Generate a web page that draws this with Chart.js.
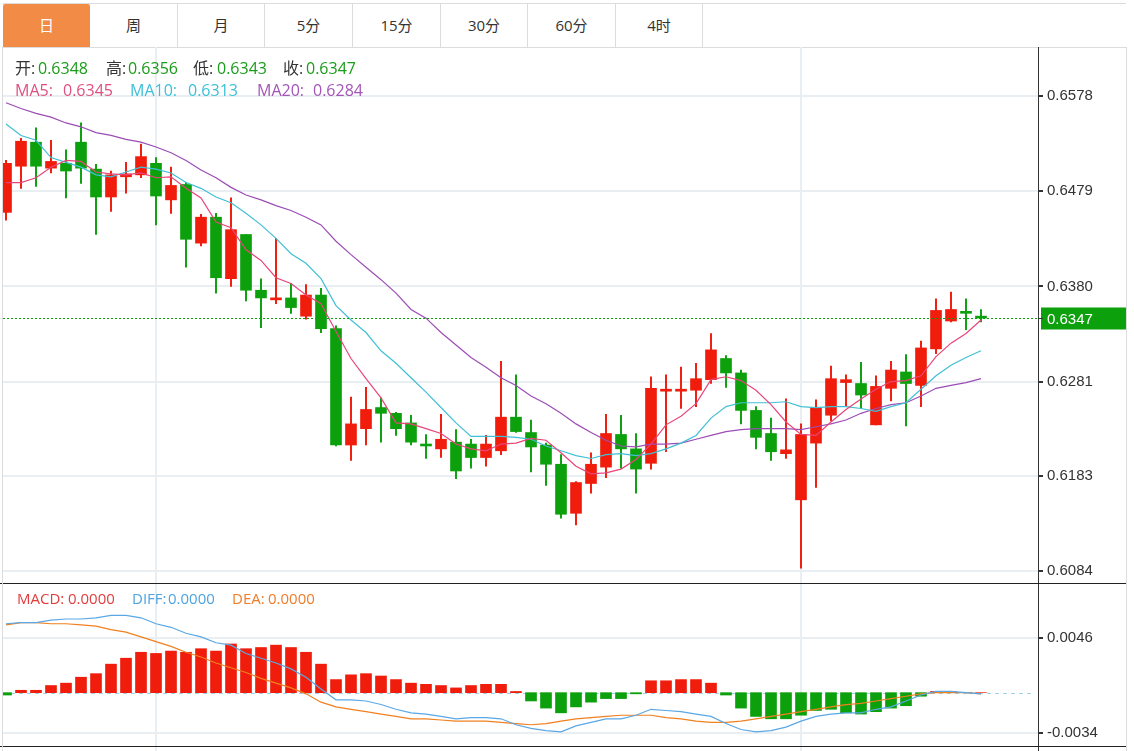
<!DOCTYPE html>
<html>
<head>
<meta charset="utf-8">
<script src="https://cdn.jsdelivr.net/npm/chart.js@4.4.0/dist/chart.umd.min.js"></script>
<style>
  body { margin: 0; width: 1134px; height: 751px; background: #fff; overflow: hidden; position: relative;
         font-family: "Open Sans", "Noto Sans CJK SC", sans-serif; }
  .tabs { position: absolute; left: 3px; top: 3px; width: 1123px; height: 43px;
          border-top: 1px solid #dcdcdc; border-bottom: 1px solid #dcdcdc; }
  .tab { position: absolute; top: 0; height: 43px; line-height: 43px; text-align: center; font-size: 15px;
         color: #333; border-right: 1px solid #dcdcdc; box-sizing: border-box; }
  .tab.on { background: #f28b45; color: #fff; border-right: none; border-radius: 2px 2px 0 0; }
  canvas { position: absolute; left: 0; }
  .txt { position: absolute; white-space: nowrap; line-height: 20px; z-index: 2; }
  .l1 { font-size: 16px; top: 58px; }
  .l2 { font-size: 16px; top: 80px; }
  .l3 { font-size: 15px; top: 588px; }
  .line { position: absolute; z-index: 3; }
</style>
</head>
<body>
<div class="tabs" id="tabs"></div>

<canvas id="main" width="1126" height="536" style="top:47px"></canvas>
<canvas id="macd" width="1126" height="163" style="top:583px"></canvas>

<div class="line" style="left:0;top:583px;width:1126px;height:1px;background:#222"></div>
<div class="line" style="left:0;top:746px;width:1126px;height:1px;background:#222"></div>
<div class="line" style="left:2px;top:47px;width:1px;height:704px;background:#dcdcdc"></div>
<div class="line" style="left:1126px;top:47px;width:1px;height:704px;background:#dcdcdc"></div>
<div class="line" style="left:1038px;top:747px;width:1px;height:4px;background:#333"></div>
<div class="line" style="left:155px;top:747px;width:2px;height:4px;background:#e9eef2"></div>
<div class="line" style="left:800px;top:747px;width:2px;height:4px;background:#e9eef2"></div>

<span class="txt l1" style="left:15px;color:#333">开:</span>
<span class="txt l1" style="left:38px;color:#1a9c1a">0.6348</span>
<span class="txt l1" style="left:106px;color:#333">高:</span>
<span class="txt l1" style="left:128px;color:#1a9c1a">0.6356</span>
<span class="txt l1" style="left:193px;color:#333">低:</span>
<span class="txt l1" style="left:217px;color:#1a9c1a">0.6343</span>
<span class="txt l1" style="left:283px;color:#333">收:</span>
<span class="txt l1" style="left:306px;color:#1a9c1a">0.6347</span>

<span class="txt l2" style="left:15px;color:#e0507e">MA5:</span>
<span class="txt l2" style="left:63px;color:#e0507e">0.6345</span>
<span class="txt l2" style="left:130px;color:#3ec0d8">MA10:</span>
<span class="txt l2" style="left:188px;color:#3ec0d8">0.6313</span>
<span class="txt l2" style="left:257px;color:#a356b8">MA20:</span>
<span class="txt l2" style="left:313px;color:#a356b8">0.6284</span>

<span class="txt l3" style="left:17px;color:#e23c3c">MACD:</span>
<span class="txt l3" style="left:68px;color:#e23c3c">0.0000</span>
<span class="txt l3" style="left:132px;color:#4ea3e0">DIFF:</span>
<span class="txt l3" style="left:168px;color:#4ea3e0">0.0000</span>
<span class="txt l3" style="left:232px;color:#f07c28">DEA:</span>
<span class="txt l3" style="left:268px;color:#f07c28">0.0000</span>

<script>
// tabs
const tabNames = ["日", "周", "月", "5分", "15分", "30分", "60分", "4时"];
const tabEdges = [0, 87, 175, 262, 350, 438, 525, 613, 700];

// daily candles, oldest first
const opens = [0.6457,0.6505,0.6530,0.6503,0.6508,0.6530,0.6502,0.6473,0.6494,0.6496,
  0.6508,0.6470,0.6486,0.6425,0.6452,0.6388,0.6434,0.6376,0.6366,0.6368,
  0.6349,0.6371,0.6336,0.6215,0.6232,0.6254,0.6248,0.6238,0.6216,0.6211,
  0.6218,0.6216,0.6202,0.6209,0.6244,0.6228,0.6215,0.6195,0.6144,0.6175,
  0.6192,0.6226,0.6211,0.6196,0.6271,0.6271,0.6272,0.6283,0.6305,0.6290,
  0.6251,0.6227,0.6206,0.6158,0.6217,0.6246,0.6280,0.6279,0.6236,0.6274,
  0.6291,0.6277,0.6315,0.6344,0.6354,0.6348];
const highs = [0.6511,0.6534,0.6545,0.6532,0.6522,0.6550,0.6507,0.6500,0.6509,0.6528,
  0.6514,0.6504,0.6488,0.6455,0.6456,0.6472,0.6434,0.6388,0.6430,0.6383,
  0.6382,0.6378,0.6339,0.6265,0.6275,0.6264,0.6249,0.6246,0.6226,0.6247,
  0.6231,0.6221,0.6225,0.6302,0.6288,0.6241,0.6217,0.6205,0.6177,0.6207,
  0.6247,0.6246,0.6227,0.6286,0.6288,0.6296,0.6300,0.6331,0.6308,0.6293,
  0.6255,0.6243,0.6263,0.6237,0.6262,0.6297,0.6288,0.6301,0.6287,0.6302,
  0.6309,0.6323,0.6367,0.6374,0.6367,0.6356];
const lows = [0.6449,0.6482,0.6484,0.6498,0.6472,0.6487,0.6434,0.6458,0.6477,0.6493,
  0.6444,0.6456,0.6400,0.6422,0.6373,0.6380,0.6365,0.6337,0.6362,0.6352,
  0.6346,0.6332,0.6214,0.6199,0.6215,0.6218,0.6225,0.6215,0.6201,0.6202,
  0.6180,0.6191,0.6193,0.6205,0.6228,0.6187,0.6173,0.6139,0.6132,0.6165,
  0.6181,0.6191,0.6165,0.6190,0.6208,0.6253,0.6255,0.6279,0.6275,0.6237,
  0.6211,0.6199,0.6201,0.6087,0.6171,0.6240,0.6255,0.6253,0.6236,0.6261,
  0.6235,0.6255,0.6310,0.6343,0.6335,0.6343];
const closes = [0.6508,0.6531,0.6505,0.6510,0.6500,0.6503,0.6473,0.6496,0.6497,0.6515,
  0.6474,0.6485,0.6429,0.6452,0.6389,0.6439,0.6376,0.6368,0.6368,0.6358,
  0.6371,0.6336,0.6215,0.6237,0.6252,0.6248,0.6232,0.6218,0.6214,0.6221,
  0.6188,0.6202,0.6216,0.6244,0.6229,0.6213,0.6195,0.6143,0.6176,0.6195,
  0.6227,0.6211,0.6190,0.6274,0.6273,0.6273,0.6284,0.6314,0.6290,0.6251,
  0.6223,0.6208,0.6210,0.6226,0.6254,0.6284,0.6283,0.6267,0.6276,0.6293,
  0.6279,0.6316,0.6355,0.6356,0.6352,0.6347];

const ma5 = [0.6488,0.6488,0.6493,0.6504,0.6511,0.6510,0.6499,0.6497,0.6496,0.6498,
  0.6493,0.6494,0.6482,0.6472,0.6447,0.6441,0.6418,0.6407,0.6389,0.6383,
  0.6371,0.6362,0.6333,0.6305,0.6284,0.6264,0.6238,0.6237,0.6232,0.6227,
  0.6216,0.6211,0.6209,0.6216,0.6217,0.6222,0.6220,0.6207,0.6193,0.6185,
  0.6186,0.6190,0.6200,0.6216,0.6236,0.6245,0.6258,0.6283,0.6286,0.6282,
  0.6272,0.6257,0.6239,0.6226,0.6225,0.6239,0.6252,0.6263,0.6273,0.6281,
  0.6282,0.6287,0.6307,0.6321,0.6331,0.6345];
const ma10 = [0.6549,0.6537,0.6532,0.6514,0.6509,0.6504,0.6496,0.6494,0.6499,0.6504,
  0.6502,0.6498,0.6488,0.6482,0.6473,0.6467,0.6456,0.6444,0.6430,0.6414,
  0.6404,0.6388,0.6360,0.6345,0.6332,0.6313,0.6300,0.6285,0.6270,0.6254,
  0.6238,0.6224,0.6224,0.6224,0.6223,0.6221,0.6214,0.6209,0.6204,0.6201,
  0.6205,0.6206,0.6204,0.6206,0.6211,0.6217,0.6225,0.6243,0.6255,0.6259,
  0.6259,0.6259,0.6260,0.6255,0.6254,0.6255,0.6255,0.6253,0.6250,0.6255,
  0.6259,0.6273,0.6287,0.6298,0.6306,0.6313];
const ma20 = [0.6571,0.6565,0.6560,0.6556,0.6550,0.6546,0.6540,0.6537,0.6533,0.6530,
  0.6525,0.6519,0.6511,0.6501,0.6493,0.6483,0.6475,0.6470,0.6464,0.6459,
  0.6452,0.6444,0.6427,0.6413,0.6400,0.6387,0.6373,0.6356,0.6347,0.6332,
  0.6319,0.6306,0.6296,0.6285,0.6277,0.6266,0.6258,0.6248,0.6237,0.6228,
  0.6220,0.6214,0.6213,0.6216,0.6216,0.6217,0.6221,0.6225,0.6229,0.6231,
  0.6232,0.6232,0.6232,0.6231,0.6234,0.6237,0.6241,0.6248,0.6253,0.6257,
  0.6259,0.6266,0.6274,0.6277,0.6280,0.6284];

const macdBars = [-0.0002,0.0002,0.0002,0.0006,0.0008,0.0013,0.0016,0.0024,0.0029,0.0034,
  0.0033,0.0035,0.0034,0.0037,0.0035,0.0041,0.0037,0.0038,0.0040,0.0038,
  0.0034,0.0024,0.0011,0.0015,0.0016,0.0014,0.0011,0.0008,0.0007,0.0006,
  0.0004,0.0006,0.0007,0.0007,0.0001,-0.0007,-0.0013,-0.0017,-0.0012,-0.0008,
  -0.0005,-0.0005,-0.0001,0.0010,0.0010,0.0011,0.0011,0.0008,-0.0002,-0.0013,
  -0.0020,-0.0022,-0.0022,-0.0019,-0.0015,-0.0014,-0.0017,-0.0018,-0.0016,-0.0013,
  -0.0011,-0.0003,0.0001,0.0001,0.0000,0.0000];
const diff = [0.0058,0.0059,0.0059,0.0061,0.0062,0.0062,0.0063,0.0065,0.0065,0.0063,
  0.0058,0.0055,0.0050,0.0047,0.0042,0.0040,0.0033,0.0029,0.0025,0.0020,
  0.0013,0.0003,-0.0006,-0.0006,-0.0007,-0.0010,-0.0014,-0.0017,-0.0018,-0.0020,
  -0.0022,-0.0021,-0.0021,-0.0022,-0.0027,-0.0030,-0.0032,-0.0033,-0.0028,-0.0025,
  -0.0022,-0.0022,-0.0019,-0.0014,-0.0015,-0.0016,-0.0018,-0.0020,-0.0026,-0.0031,
  -0.0033,-0.0032,-0.0029,-0.0024,-0.0020,-0.0018,-0.0017,-0.0017,-0.0014,-0.0012,
  -0.0007,-0.0002,0.0001,0.0001,0.0000,-0.0001];
const dea = [0.0057,0.0059,0.0059,0.0058,0.0058,0.0057,0.0056,0.0053,0.0051,0.0047,
  0.0043,0.0039,0.0034,0.0030,0.0025,0.0021,0.0017,0.0012,0.0008,0.0004,
  -0.0001,-0.0008,-0.0012,-0.0014,-0.0016,-0.0018,-0.0020,-0.0022,-0.0022,-0.0023,
  -0.0024,-0.0024,-0.0024,-0.0025,-0.0026,-0.0027,-0.0026,-0.0024,-0.0022,-0.0021,
  -0.0020,-0.0019,-0.0019,-0.0019,-0.0021,-0.0022,-0.0024,-0.0025,-0.0025,-0.0024,
  -0.0022,-0.0020,-0.0018,-0.0016,-0.0014,-0.0012,-0.0010,-0.0009,-0.0007,-0.0005,
  -0.0003,-0.0001,0.0000,0.0000,0.0000,-0.0001];

// axis ticks
const priceTicks = [0.6578, 0.6479, 0.6380, 0.6281, 0.6183, 0.6084];
const macdTicks = [0.0046, -0.0034];
const monthStarts = [10, 53];

const UP = "#f01c0c", DOWN = "#0ca00c";
const GRID = "#e9eef2";

// build tab bar
const tabsEl = document.getElementById("tabs");
tabNames.forEach((name, i) => {
  const d = document.createElement("div");
  d.className = "tab" + (i === 0 ? " on" : "");
  d.style.left = tabEdges[i] + "px";
  d.style.width = (tabEdges[i + 1] - tabEdges[i]) + "px";
  d.textContent = name;
  tabsEl.appendChild(d);
});

const pts = arr => arr.map((v, i) => ({ x: i, y: v }));
const candleColors = closes.map((c, i) => c >= opens[i] ? UP : DOWN);

function xScale() {
  return {
    type: "linear", min: -0.2, max: 68.8, offset: false,
    afterBuildTicks: s => { s.ticks = monthStarts.map(v => ({ value: v })); },
    ticks: { display: false },
    grid: { color: GRID, lineWidth: 2, drawTicks: false, offset: false },
    border: { display: false },
    afterFit: s => { s.height = 0; s.paddingLeft = 0; s.paddingRight = 0; }
  };
}
function yScale(min, max, ticks) {
  return {
    position: "right", min: min, max: max,
    afterBuildTicks: s => { s.ticks = ticks.map(v => ({ value: v })); },
    ticks: { padding: 4, color: "#333", font: { family: "Liberation Sans", size: 15 },
             callback: v => Number(v).toFixed(4) },
    grid: { color: GRID, lineWidth: 2, tickLength: 5, tickColor: "#333" },
    border: { color: "#333", width: 1 },
    afterFit: s => { s.width = 88; s.paddingTop = 0; s.paddingBottom = 0; }
  };
}

const lastPrice = {
  id: "lastPrice",
  afterDatasetsDraw(chart) {
    const { ctx, chartArea: a, scales: { y } } = chart;
    const last = closes[closes.length - 1];
    const py = Math.round(y.getPixelForValue(last)) + 0.5;
    ctx.save();
    ctx.strokeStyle = DOWN; ctx.lineWidth = 1; ctx.setLineDash([2, 2]);
    ctx.beginPath(); ctx.moveTo(a.left, py); ctx.lineTo(a.right, py); ctx.stroke();
    ctx.setLineDash([]);
    ctx.fillStyle = DOWN;
    ctx.fillRect(a.right + 3, py - 11, 85, 22);
    ctx.strokeStyle = "#333";
    ctx.beginPath(); ctx.moveTo(a.right, py); ctx.lineTo(a.right + 5, py); ctx.stroke();
    ctx.fillStyle = "#fff"; ctx.font = '15px "Liberation Sans"'; ctx.textBaseline = "middle";
    ctx.fillText(last.toFixed(4), a.right + 9, py + 1);
    ctx.restore();
  }
};

const zeroLine = {
  id: "zeroLine",
  beforeDatasetsDraw(chart) {
    const { ctx, chartArea: a, scales: { y } } = chart;
    const py = Math.round(y.getPixelForValue(0)) + 0.5;
    ctx.save();
    ctx.strokeStyle = "#9fd0ea"; ctx.lineWidth = 1; ctx.setLineDash([4, 4]);
    ctx.beginPath(); ctx.moveTo(a.left, py); ctx.lineTo(a.right - 6, py); ctx.stroke();
    ctx.restore();
  }
};

const common = {
  responsive: false, animation: false, events: [],
  layout: { padding: { left: 3, top: 0, right: 0, bottom: 0 } },
  plugins: { legend: { display: false }, tooltip: { enabled: false } }
};

const maLine = (arr, color) => ({
  type: "line", data: pts(arr), borderColor: color, borderWidth: 1.2,
  pointRadius: 0, tension: 0, order: 0
});

new Chart(document.getElementById("main"), {
  type: "bar",
  data: {
    datasets: [
      maLine(ma5, "#e8457a"),
      maLine(ma10, "#40bfd5"),
      maLine(ma20, "#9b4db5"),
      { type: "bar", data: opens.map((o, i) => ({ x: i, y: [o, closes[i]] })),
        backgroundColor: candleColors, barThickness: 11, minBarLength: 2, grouped: false, order: 1 },
      { type: "bar", data: lows.map((l, i) => ({ x: i, y: [l, highs[i]] })),
        backgroundColor: candleColors, barThickness: 1.3, grouped: false, order: 2 }
    ]
  },
  options: Object.assign({}, common, {
    scales: { x: xScale(), y: yScale(0.60715, 0.6629, priceTicks) }
  }),
  plugins: [lastPrice]
});

new Chart(document.getElementById("macd"), {
  type: "bar",
  data: {
    datasets: [
      { type: "line", data: pts(diff), borderColor: "#5aa8e6", borderWidth: 1.2, pointRadius: 0, order: 0 },
      { type: "line", data: pts(dea), borderColor: "#f08020", borderWidth: 1.2, pointRadius: 0, order: 0 },
      { type: "bar", data: pts(macdBars), backgroundColor: macdBars.map(v => v >= 0 ? UP : DOWN),
        barThickness: 11, grouped: false, order: 1 }
    ]
  },
  options: Object.assign({}, common, {
    scales: { x: xScale(), y: yScale(-0.00449, 0.00923, macdTicks) }
  }),
  plugins: [zeroLine]
});
</script>
</body>
</html>
